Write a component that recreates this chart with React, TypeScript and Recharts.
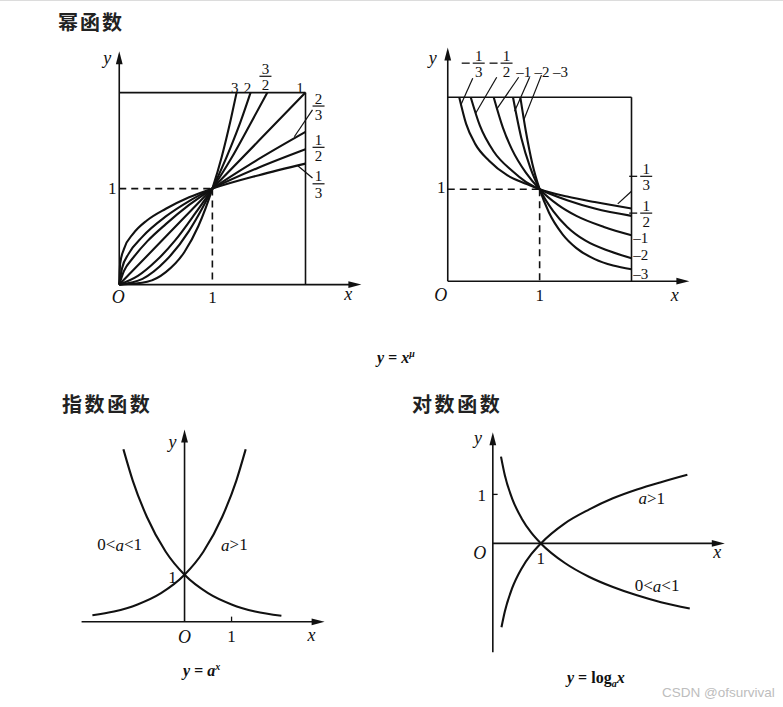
import React from "react";
import { Line, LineChart, ReferenceDot, ReferenceLine, XAxis, YAxis } from "recharts";

type P = [number, number];

const INK = "#111111";
const SERIF = '"Liberation Serif", "Times New Roman", serif';
const CJK = '"Noto Sans CJK SC", "Noto Sans", sans-serif';

// 幂函数 y = x^μ, μ > 0
const muPosLabels = ["3", "2", "3/2", "1", "2/3", "1/2", "1/3"];
const powMu3: P[] = [[0, 0], [0.3, 0.03], [0.5, 0.13], [0.7, 0.34], [0.85, 0.61], [1, 1], [1.1, 1.33], [1.2, 1.73], [1.26, 2]];
const powMu2: P[] = [[0, 0], [0.25, 0.06], [0.5, 0.25], [0.75, 0.56], [0.9, 0.81], [1, 1], [1.1, 1.21], [1.2, 1.44], [1.3, 1.69], [1.41, 2]];
const powMu3_2: P[] = [[0, 0], [0.2, 0.09], [0.4, 0.25], [0.6, 0.46], [0.8, 0.72], [1, 1], [1.2, 1.31], [1.4, 1.66], [1.59, 2]];
const powMu1: P[] = [[0, 0], [1, 1], [2, 2]];
const powMu2_3: P[] = [[0, 0], [0.05, 0.14], [0.15, 0.28], [0.3, 0.45], [0.5, 0.63], [0.75, 0.83], [1, 1], [1.4, 1.25], [2, 1.59]];
const powMu1_2: P[] = [[0, 0], [0.03, 0.17], [0.1, 0.32], [0.25, 0.5], [0.5, 0.71], [0.75, 0.87], [1, 1], [1.5, 1.22], [2, 1.41]];
const powMu1_3: P[] = [[0, 0], [0.01, 0.22], [0.05, 0.37], [0.15, 0.53], [0.3, 0.67], [0.5, 0.79], [0.75, 0.91], [1, 1], [1.5, 1.14], [2, 1.26]];

// 幂函数 y = x^μ, μ < 0 (right box)
const muNegLabels = ["-1/3", "-1/2", "-1", "-2", "-3"];
const powMuN1_3: P[] = [[0.125, 2], [0.2, 1.71], [0.3, 1.49], [0.45, 1.31], [0.65, 1.15], [0.85, 1.06], [1, 1], [1.3, 0.92], [1.6, 0.86], [2, 0.79]];
const powMuN1_2: P[] = [[0.25, 2], [0.35, 1.69], [0.5, 1.41], [0.7, 1.2], [0.85, 1.08], [1, 1], [1.3, 0.88], [1.6, 0.79], [2, 0.71]];
const powMuN1: P[] = [[0.5, 2], [0.6, 1.67], [0.7, 1.43], [0.85, 1.18], [1, 1], [1.2, 0.83], [1.4, 0.71], [1.7, 0.59], [2, 0.5]];
const powMuN2: P[] = [[0.71, 2], [0.8, 1.56], [0.9, 1.23], [1, 1], [1.15, 0.76], [1.3, 0.59], [1.5, 0.44], [1.75, 0.33], [2, 0.25]];
const powMuN3: P[] = [[0.79, 2], [0.85, 1.63], [0.92, 1.28], [1, 1], [1.1, 0.75], [1.25, 0.51], [1.4, 0.36], [1.6, 0.24], [1.8, 0.17], [2, 0.13]];

// 指数函数
const expGrow: P[] = [[-1.96, 0.14], [-1.5, 0.22], [-1, 0.37], [-0.5, 0.61], [0, 1], [0.4, 1.49], [0.8, 2.23], [1.1, 3], [1.3, 3.67]];
const expDecay: P[] = [[-1.3, 3.67], [-1.1, 3], [-0.8, 2.23], [-0.4, 1.49], [0, 1], [0.5, 0.61], [1, 0.37], [1.5, 0.22], [2.06, 0.13]];

// 对数函数
const logGrow: P[] = [[0.18, -1.71], [0.25, -1.39], [0.4, -0.92], [0.6, -0.51], [0.8, -0.22], [1, 0], [1.5, 0.41], [2, 0.69], [2.5, 0.92], [3, 1.1], [3.5, 1.25], [4.05, 1.4]];
const logDecay: P[] = [[0.17, 1.77], [0.25, 1.39], [0.4, 0.92], [0.6, 0.51], [0.8, 0.22], [1, 0], [1.5, -0.4], [2, -0.68], [2.5, -0.89], [3, -1.06], [3.5, -1.2], [4.1, -1.33]];

const titles = ["幂函数", "指数函数", "对数函数"];
const baseCase = ["a>1", "0<a<1"];

function arrowShape(p: any) {
  const { x1, y1, x2, y2 } = p;
  const len = Math.hypot(x2 - x1, y2 - y1) || 1;
  const ux = (x2 - x1) / len;
  const uy = (y2 - y1) / len;
  const bx = x2 - ux * 13;
  const by = y2 - uy * 13;
  const w = 3.4;
  return (
    <g>
      <line x1={x1} y1={y1} x2={bx + ux * 2} y2={by + uy * 2} stroke={INK} strokeWidth={1.6} />
      <polygon
        points={`${x2},${y2} ${bx - uy * w},${by + ux * w} ${bx + uy * w},${by - ux * w}`}
        fill={INK}
      />
    </g>
  );
}

function axis(key: string, from: P, to: P) {
  return (
    <ReferenceLine
      key={key}
      segment={[{ x: from[0], y: from[1] }, { x: to[0], y: to[1] }]}
      ifOverflow="visible"
      shape={arrowShape}
    />
  );
}

function seg(key: string, from: P, to: P, dashed = false, width = 1.6) {
  return (
    <ReferenceLine
      key={key}
      segment={[{ x: from[0], y: from[1] }, { x: to[0], y: to[1] }]}
      ifOverflow="visible"
      stroke={INK}
      strokeWidth={width}
      strokeDasharray={dashed ? "7 5" : undefined}
    />
  );
}

function txt(key: string, at: P, content: React.ReactNode, italic = false, size = 17) {
  return (
    <ReferenceDot
      key={key}
      x={at[0]}
      y={at[1]}
      r={0}
      ifOverflow="visible"
      shape={(p: any) => (
        <text
          x={p.cx}
          y={p.cy}
          textAnchor="middle"
          dominantBaseline="central"
          fontFamily={SERIF}
          fontSize={size}
          fontStyle={italic ? "italic" : "normal"}
          fill={INK}
        >
          {content}
        </text>
      )}
    />
  );
}

// μ label: plain number or stacked fraction, with an optional minus sign
function mu(key: string, at: P, label: string) {
  const neg = label.startsWith("-");
  const body = neg ? label.slice(1) : label;
  if (!body.includes("/")) {
    return txt(key, at, (neg ? "\u2013" : "") + body, false, 15);
  }
  const [num, den] = body.split("/");
  return (
    <ReferenceDot
      key={key}
      x={at[0]}
      y={at[1]}
      r={0}
      ifOverflow="visible"
      shape={(p: any) => (
        <g fontFamily={SERIF} fontSize={15} fill={INK} textAnchor="middle">
          <text x={p.cx} y={p.cy - 7.5} dominantBaseline="central">
            {num}
          </text>
          <line x1={p.cx - 6} x2={p.cx + 6} y1={p.cy} y2={p.cy} stroke={INK} strokeWidth={1.2} />
          <text x={p.cx} y={p.cy + 9} dominantBaseline="central">
            {den}
          </text>
          {neg ? (
            <line x1={p.cx - 17} x2={p.cx - 9} y1={p.cy} y2={p.cy} stroke={INK} strokeWidth={1.3} />
          ) : null}
        </g>
      )}
    />
  );
}

function caseLabel(key: string, at: P, label: string) {
  const parts = label.split("a");
  return txt(
    key,
    at,
    <>
      {parts[0]}
      <tspan fontStyle="italic">a</tspan>
      {parts[1]}
    </>,
    false,
    17,
  );
}

type PanelProps = {
  left: number;
  top: number;
  width: number;
  height: number;
  xDomain: [number, number];
  yDomain: [number, number];
  curves: P[][];
  children?: React.ReactNode;
};

function Panel({ left, top, width, height, xDomain, yDomain, curves, children }: PanelProps) {
  return (
    <div style={{ position: "absolute", left, top }}>
      <LineChart width={width} height={height} margin={{ top: 0, right: 0, bottom: 0, left: 0 }}>
        <XAxis type="number" dataKey="x" domain={xDomain} hide allowDataOverflow />
        <YAxis type="number" domain={yDomain} hide allowDataOverflow />
        {children}
        {curves.map((c, i) => (
          <Line
            key={i}
            data={c.map(([x, y]) => ({ x, y }))}
            dataKey="y"
            type="monotone"
            stroke={INK}
            strokeWidth={2.1}
            dot={false}
            activeDot={false}
            isAnimationActive={false}
          />
        ))}
      </LineChart>
    </div>
  );
}

const titleStyle: React.CSSProperties = {
  position: "absolute",
  fontFamily: CJK,
  fontSize: 20,
  fontWeight: 700,
  lineHeight: 1,
  color: "#222",
  whiteSpace: "nowrap",
};

const capStyle: React.CSSProperties = {
  position: "absolute",
  fontFamily: SERIF,
  fontSize: 16,
  fontWeight: 700,
  lineHeight: 1,
  color: INK,
  whiteSpace: "nowrap",
};

export default function App() {
  return (
    <div style={{ position: "absolute", left: 0, top: 0, width: 783, height: 707, background: "#fff", overflow: "hidden" }}>
      <div style={{ position: "absolute", left: 0, top: 0, width: 783, height: 1, background: "#dcdcdc" }} />

      <div style={{ ...titleStyle, left: 58, top: 12, letterSpacing: 2 }}>{titles[0]}</div>
      <div style={{ ...titleStyle, left: 62, top: 394, letterSpacing: 2.6 }}>{titles[1]}</div>
      <div style={{ ...titleStyle, left: 412, top: 394, letterSpacing: 2.6 }}>{titles[2]}</div>

      {/* 幂函数 μ > 0 */}
      <Panel
        left={82}
        top={35}
        width={298}
        height={288}
        xDomain={[-0.4, 2.8]}
        yDomain={[-0.4, 2.6]}
        curves={[powMu3, powMu2, powMu3_2, powMu1, powMu2_3, powMu1_2, powMu1_3]}
      >
        {axis("ax", [0, 0], [2.6, 0])}
        {axis("ay", [0, 0], [0, 2.43])}
        {seg("bt", [0, 2], [2, 2])}
        {seg("br", [2, 2], [2, 0])}
        {seg("d1", [0, 1], [1, 1], true)}
        {seg("d2", [1, 1], [1, 0], true)}
        {seg("l1", [2.075, 1.82], [1.88, 1.54], false, 1.2)}
        {seg("l2", [1.914, 1.24], [2.075, 1.11], false, 1.2)}
        {txt("y", [-0.13, 2.36], "y", true, 18)}
        {txt("o", [-0.01, -0.13], "O", true, 18)}
        {txt("x1", [1, -0.13], "1")}
        {txt("x", [2.46, -0.1], "x", true, 18)}
        {txt("y1", [-0.075, 1], "1")}
        {mu("m0", [1.24, 2.05], muPosLabels[0])}
        {mu("m1", [1.376, 2.05], muPosLabels[1])}
        {mu("m2", [1.57, 2.17], muPosLabels[2])}
        {mu("m3", [1.94, 2.05], muPosLabels[3])}
        {mu("m4", [2.14, 1.86], muPosLabels[4])}
        {mu("m5", [2.14, 1.43], muPosLabels[5])}
        {mu("m6", [2.14, 1.05], muPosLabels[6])}
      </Panel>

      {/* 幂函数 μ < 0 */}
      <Panel
        left={411}
        top={42}
        width={294}
        height={276}
        xDomain={[-0.4, 2.8]}
        yDomain={[-0.4, 2.6]}
        curves={[powMuN1_3, powMuN1_2, powMuN1, powMuN2, powMuN3]}
      >
        {axis("ax", [0, 0], [2.63, 0])}
        {axis("ay", [0, 0], [0, 2.54])}
        {seg("bt", [0, 2], [2, 2])}
        {seg("br", [2, 2], [2, 0])}
        {seg("d1", [0, 1], [1, 1], true)}
        {seg("d2", [1, 1], [1, 0], true)}
        {seg("t1", [0.272, 2.207], [0.141, 1.913], false, 1.2)}
        {seg("t2", [0.533, 2.217], [0.304, 1.826], false, 1.2)}
        {seg("t3", [0.772, 2.217], [0.533, 1.87], false, 1.2)}
        {seg("t4", [0.891, 2.217], [0.728, 1.848], false, 1.2)}
        {seg("t5", [1.02, 2.24], [0.826, 1.75], false, 1.2)}
        {seg("r1", [1.85, 0.84], [2.0, 0.978], false, 1.2)}
        {txt("y", [-0.163, 2.43], "y", true, 18)}
        {txt("o", [-0.076, -0.152], "O", true, 18)}
        {txt("x1", [1, -0.152], "1")}
        {txt("x", [2.47, -0.152], "x", true, 18)}
        {txt("y1", [-0.07, 1.02], "1")}
        {mu("n0", [0.337, 2.37], muNegLabels[0])}
        {mu("n1", [0.64, 2.37], muNegLabels[1])}
        {mu("n2", [0.826, 2.27], muNegLabels[2])}
        {mu("n3", [1.027, 2.27], muNegLabels[3])}
        {mu("n4", [1.228, 2.27], muNegLabels[4])}
        {mu("s0", [2.16, 1.14], muNegLabels[0])}
        {mu("s1", [2.16, 0.74], muNegLabels[1])}
        {mu("s2", [2.1, 0.47], muNegLabels[2])}
        {mu("s3", [2.1, 0.28], muNegLabels[3])}
        {mu("s4", [2.1, 0.08], muNegLabels[4])}
      </Panel>

      <div style={{ ...capStyle, left: 377, top: 349, fontStyle: "italic" }}>
        y = x<span style={{ fontSize: 10, verticalAlign: 6 }}>μ</span>
      </div>

      {/* 指数函数 */}
      <Panel
        left={67}
        top={415}
        width={268}
        height={235}
        xDomain={[-2.5, 3.2]}
        yDomain={[-0.6, 4.4]}
        curves={[expGrow, expDecay]}
      >
        {axis("ax", [-2.19, 0], [2.98, 0])}
        {axis("ay", [0, 0], [0, 4.09])}
        {seg("tk", [1, 0], [1, 0.11], false, 1.3)}
        {txt("y", [-0.255, 3.83], "y", true, 18)}
        {txt("o", [0, -0.32], "O", true, 18)}
        {txt("x1", [1, -0.32], "1")}
        {txt("x", [2.7, -0.28], "x", true, 18)}
        {txt("y1", [-0.255, 0.94], "1")}
        {caseLabel("c1", [-1.38, 1.64], baseCase[1])}
        {caseLabel("c0", [1.06, 1.64], baseCase[0])}
      </Panel>

      <div style={{ ...capStyle, left: 183, top: 662, fontStyle: "italic" }}>
        y = a<span style={{ fontSize: 10, verticalAlign: 6 }}>x</span>
      </div>

      {/* 对数函数 */}
      <Panel
        left={464}
        top={416}
        width={269}
        height={245}
        xDomain={[-0.6, 5.0]}
        yDomain={[-2.4, 2.6]}
        curves={[logGrow, logDecay]}
      >
        {axis("ax", [0, 0], [4.83, 0])}
        {axis("ay", [0, -2.22], [0, 2.27])}
        {seg("tk", [0, 1], [0.1, 1], false, 1.3)}
        {txt("y", [-0.31, 2.16], "y", true, 18)}
        {txt("y1", [-0.23, 0.98], "1")}
        {txt("o", [-0.27, -0.2], "O", true, 18)}
        {txt("x1", [1, -0.31], "1")}
        {txt("x", [4.67, -0.18], "x", true, 18)}
        {caseLabel("c0", [3.31, 0.92], baseCase[0])}
        {caseLabel("c1", [3.42, -0.86], baseCase[1])}
      </Panel>

      <div style={{ ...capStyle, left: 567, top: 670 }}>
        <i>y</i> = log<span style={{ fontSize: 10, verticalAlign: -4, fontStyle: "italic" }}>a</span>
        <i>x</i>
      </div>

      <div
        style={{
          position: "absolute",
          left: 662,
          top: 686,
          fontFamily: '"Liberation Sans", Arial, sans-serif',
          fontSize: 13.5,
          lineHeight: 1,
          color: "#bdbdbd",
          whiteSpace: "nowrap",
        }}
      >
        CSDN @ofsurvival
      </div>
    </div>
  );
}
